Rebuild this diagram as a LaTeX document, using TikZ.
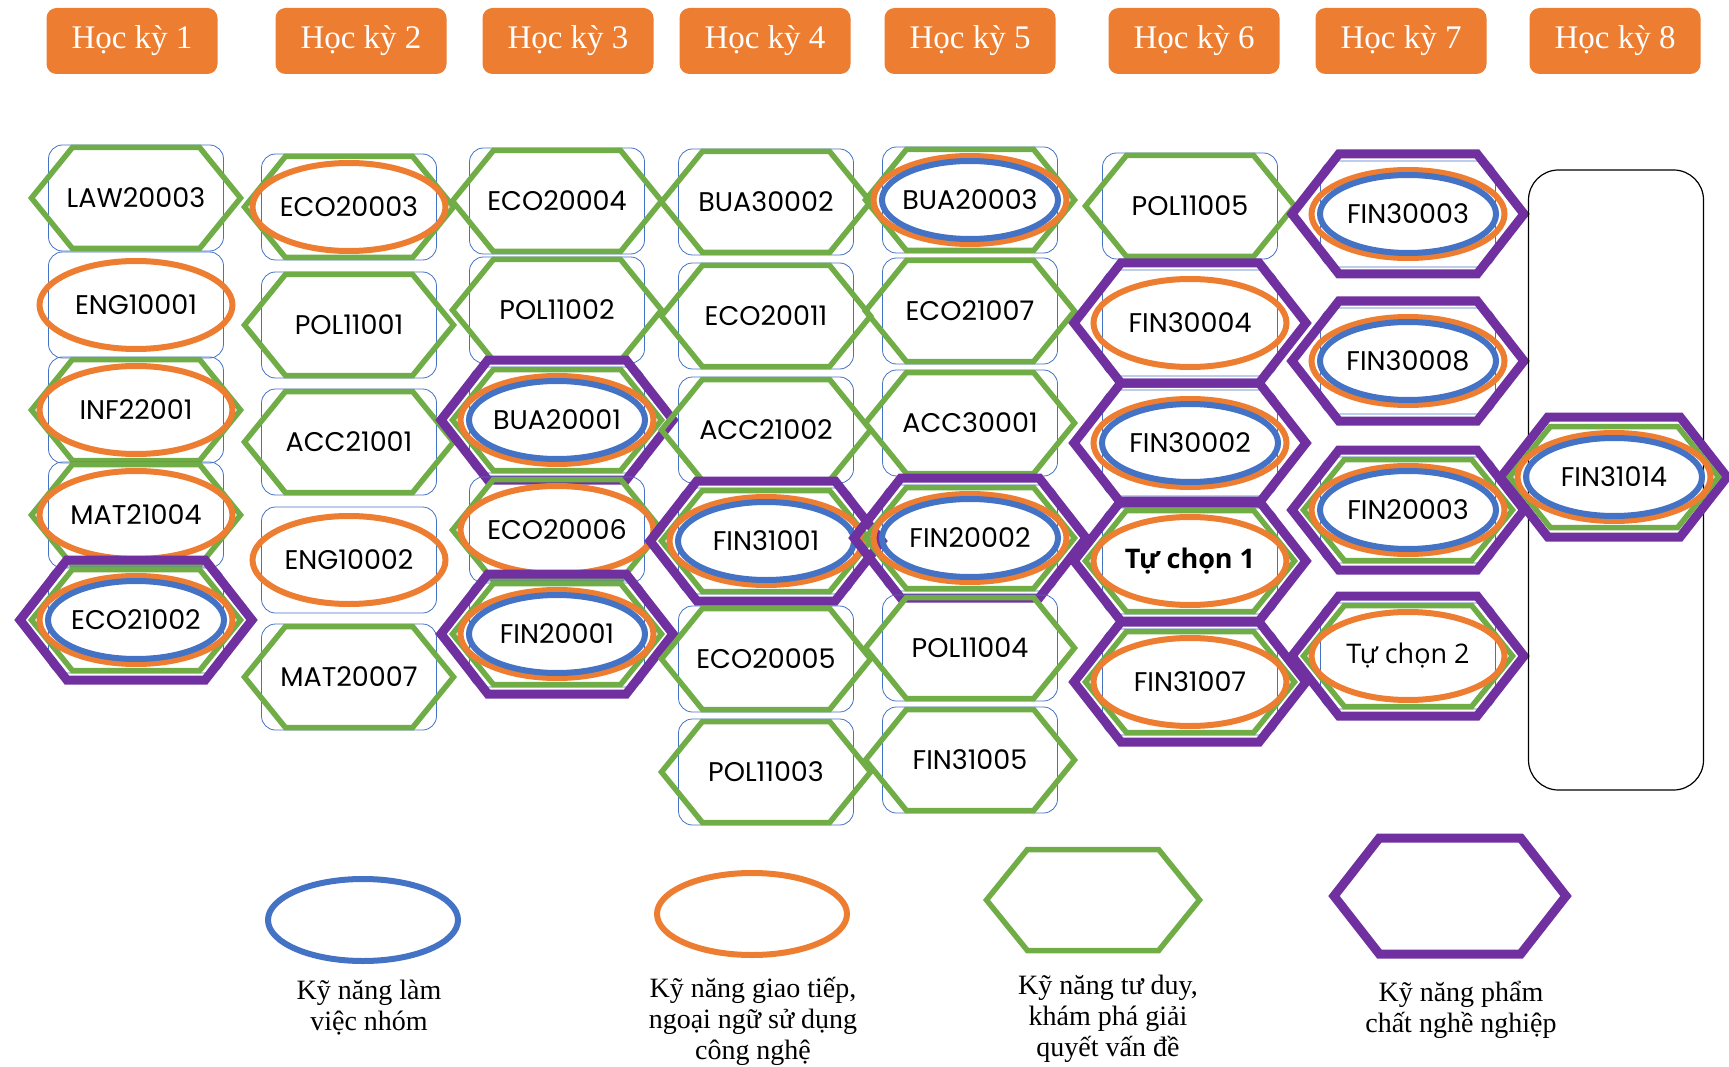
\documentclass[tikz,border=0pt]{standalone}
\usepackage{fontspec}
\setmainfont{Liberation Serif}
\newfontfamily\codefont{Poppins}
\newfontfamily\vnfont{Open Sans}
\usetikzlibrary{shapes.geometric, shapes.symbols}
\definecolor{HKcam}{RGB}{237,125,49}
\definecolor{HKxanh}{RGB}{68,114,196}
\definecolor{HKla}{RGB}{112,173,71}
\definecolor{HKtim}{RGB}{112,48,160}

\begin{document}
\begin{tikzpicture}[x=1pt, y=-1pt,
    hk/.style={
        rectangle, rounded corners=10pt, fill=HKcam,
        minimum width=171pt, minimum height=66pt,
        text=white, font=\fontsize{33}{38}\selectfont},
    course/.style={
        rectangle, rounded corners=14pt,
        draw=HKxanh, line width=0.8pt,
        minimum width=175pt, minimum height=106pt, inner sep=0pt,
        font=\codefont\fontsize{27}{32}\selectfont},
    ghex/.style={
        signal, signal to=east and west, signal pointer angle=102,
        draw=HKla, line width=5.5pt, inner sep=0pt,
        minimum width=209pt, minimum height=101pt},
    phex/.style={
        signal, signal to=east and west, signal pointer angle=104,
        draw=HKtim, line width=9pt, inner sep=0pt,
        minimum width=232pt, minimum height=120pt},
    oell/.style={ellipse, draw=HKcam, line width=6pt,
        minimum width=193pt, minimum height=88pt},
    bell/.style={ellipse, draw=HKxanh, line width=6pt,
        minimum width=176pt, minimum height=78pt},
    legtext/.style={align=center, font=\fontsize{28}{31}\selectfont}]
  \useasboundingbox (0,0) rectangle (1729,1067);
  % Hoc ky
  \node[hk] (hk1) at (132,41)  {Học kỳ 1};
  \node[hk] (hk2) at (361,41)  {Học kỳ 2};
  \node[hk] (hk3) at (568,41)  {Học kỳ 3};
  \node[hk] (hk4) at (765,41)  {Học kỳ 4};
  \node[hk] (hk5) at (970,41)  {Học kỳ 5};
  \node[hk] (hk6) at (1194,41) {Học kỳ 6};
  \node[hk] (hk7) at (1401,41) {Học kỳ 7};
  \node[hk] (hk8) at (1615,41) {Học kỳ 8};
  % Hoc ky 1
  \node[course] (law20003) at (136,198) {LAW20003};
  \node[ghex] (law20003g) at (law20003) {};
  \node[course] (eng10001) at (136,305) {ENG10001};
  \node[oell] (eng10001o) at (eng10001) {};
  \node[course] (inf22001) at (136,410) {INF22001};
  \node[ghex] (inf22001g) at (inf22001) {};
  \node[oell] (inf22001o) at (inf22001) {};
  \node[course] (mat21004) at (136,515) {MAT21004};
  \node[ghex] (mat21004g) at (mat21004) {};
  \node[oell] (mat21004o) at (mat21004) {};
  \node[course] (eco21002) at (136,620) {ECO21002};
  \node[phex] (eco21002p) at (eco21002) {};
  \node[ghex] (eco21002g) at (eco21002) {};
  \node[oell] (eco21002o) at (eco21002) {};
  \node[bell] (eco21002b) at (eco21002) {};
  % Hoc ky 2
  \node[course] (eco20003) at (349,207) {ECO20003};
  \node[ghex] (eco20003g) at (eco20003) {};
  \node[oell] (eco20003o) at (eco20003) {};
  \node[course] (pol11001) at (349,325) {POL11001};
  \node[ghex] (pol11001g) at (pol11001) {};
  \node[course] (acc21001) at (349,442) {ACC21001};
  \node[ghex] (acc21001g) at (acc21001) {};
  \node[course] (eng10002) at (349,560) {ENG10002};
  \node[oell] (eng10002o) at (eng10002) {};
  \node[course] (mat20007) at (349,677) {MAT20007};
  \node[ghex] (mat20007g) at (mat20007) {};
  % Hoc ky 3
  \node[course] (eco20004) at (557,201) {ECO20004};
  \node[ghex] (eco20004g) at (eco20004) {};
  \node[course] (pol11002) at (557,310) {POL11002};
  \node[ghex] (pol11002g) at (pol11002) {};
  \node[course] (bua20001) at (557,420) {BUA20001};
  \node[phex] (bua20001p) at (bua20001) {};
  \node[ghex] (bua20001g) at (bua20001) {};
  \node[oell] (bua20001o) at (bua20001) {};
  \node[bell] (bua20001b) at (bua20001) {};
  \node[course] (eco20006) at (557,530) {ECO20006};
  \node[ghex] (eco20006g) at (eco20006) {};
  \node[oell] (eco20006o) at (eco20006) {};
  \node[course] (fin20001) at (557,634) {FIN20001};
  \node[phex] (fin20001p) at (fin20001) {};
  \node[ghex] (fin20001g) at (fin20001) {};
  \node[oell] (fin20001o) at (fin20001) {};
  \node[bell] (fin20001b) at (fin20001) {};
  % Hoc ky 4
  \node[course] (bua30002) at (766,202) {BUA30002};
  \node[ghex] (bua30002g) at (bua30002) {};
  \node[course] (eco20011) at (766,316) {ECO20011};
  \node[ghex] (eco20011g) at (eco20011) {};
  \node[course] (acc21002) at (766,430) {ACC21002};
  \node[ghex] (acc21002g) at (acc21002) {};
  \node[course] (fin31001) at (766,541) {FIN31001};
  \node[phex] (fin31001p) at (fin31001) {};
  \node[ghex] (fin31001g) at (fin31001) {};
  \node[oell] (fin31001o) at (fin31001) {};
  \node[bell] (fin31001b) at (fin31001) {};
  \node[course] (eco20005) at (766,659) {ECO20005};
  \node[ghex] (eco20005g) at (eco20005) {};
  \node[course] (pol11003) at (766,772) {POL11003};
  \node[ghex] (pol11003g) at (pol11003) {};
  % Hoc ky 5
  \node[course] (bua20003) at (970,200) {BUA20003};
  \node[ghex] (bua20003g) at (bua20003) {};
  \node[oell] (bua20003o) at (bua20003) {};
  \node[bell] (bua20003b) at (bua20003) {};
  \node[course] (eco21007) at (970,311) {ECO21007};
  \node[ghex] (eco21007g) at (eco21007) {};
  \node[course] (acc30001) at (970,423) {ACC30001};
  \node[ghex] (acc30001g) at (acc30001) {};
  \node[course] (fin20002) at (970,538) {FIN20002};
  \node[phex] (fin20002p) at (fin20002) {};
  \node[ghex] (fin20002g) at (fin20002) {};
  \node[oell] (fin20002o) at (fin20002) {};
  \node[bell] (fin20002b) at (fin20002) {};
  \node[course] (pol11004) at (970,648) {POL11004};
  \node[ghex] (pol11004g) at (pol11004) {};
  \node[course] (fin31005) at (970,760) {FIN31005};
  \node[ghex] (fin31005g) at (fin31005) {};
  % Hoc ky 6
  \node[course] (pol11005) at (1190,206) {POL11005};
  \node[ghex] (pol11005g) at (pol11005) {};
  \node[course] (fin30004) at (1190,323) {FIN30004};
  \node[phex] (fin30004p) at (fin30004) {};
  \node[oell] (fin30004o) at (fin30004) {};
  \node[course] (fin30002) at (1190,443) {FIN30002};
  \node[phex] (fin30002p) at (fin30002) {};
  \node[oell] (fin30002o) at (fin30002) {};
  \node[bell] (fin30002b) at (fin30002) {};
  \node[course] (tuchon1) at (1190,561) {\vnfont\bfseries Tự chọn 1};
  \node[phex] (tuchon1p) at (tuchon1) {};
  \node[ghex] (tuchon1g) at (tuchon1) {};
  \node[oell] (tuchon1o) at (tuchon1) {};
  \node[course] (fin31007) at (1190,682) {FIN31007};
  \node[phex] (fin31007p) at (fin31007) {};
  \node[ghex] (fin31007g) at (fin31007) {};
  \node[oell] (fin31007o) at (fin31007) {};
  % Hoc ky 7
  \node[course] (fin30003) at (1408,214) {FIN30003};
  \node[phex] (fin30003p) at (fin30003) {};
  \node[oell] (fin30003o) at (fin30003) {};
  \node[bell] (fin30003b) at (fin30003) {};
  \node[course] (fin30008) at (1408,361) {FIN30008};
  \node[phex] (fin30008p) at (fin30008) {};
  \node[oell] (fin30008o) at (fin30008) {};
  \node[bell] (fin30008b) at (fin30008) {};
  \node[course] (fin20003) at (1408,510) {FIN20003};
  \node[phex] (fin20003p) at (fin20003) {};
  \node[ghex] (fin20003g) at (fin20003) {};
  \node[oell] (fin20003o) at (fin20003) {};
  \node[bell] (fin20003b) at (fin20003) {};
  \node[course] (tuchon2) at (1408,656) {\vnfont Tự chọn 2};
  \node[phex] (tuchon2p) at (tuchon2) {};
  \node[ghex] (tuchon2g) at (tuchon2) {};
  \node[oell] (tuchon2o) at (tuchon2) {};
  % Hoc ky 8
  \node[rectangle, rounded corners=30pt, draw=black, line width=1.2pt,
        minimum width=175pt, minimum height=620pt] (hk8khung) at (1616,480) {};
  \node[font=\codefont\fontsize{27}{32}\selectfont] (fin31014) at (1614,477) {FIN31014};
  \node[phex, minimum width=226pt] (fin31014p) at (fin31014) {};
  \node[ghex] (fin31014g) at (fin31014) {};
  \node[oell] (fin31014o) at (fin31014) {};
  \node[bell] (fin31014b) at (fin31014) {};
  % Chu thich
  \node[bell, minimum width=190pt, minimum height=82pt] (lnhom) at (363,920) {};
  \node[oell, minimum width=190pt, minimum height=82pt] (lgiaotiep) at (752,914) {};
  \node[ghex, minimum width=213pt] (ltuduy) at (1093,900) {};
  \node[phex, minimum height=116pt] (lpham) at (1450,896) {};
  \node[legtext] (tnhom)     at (369,1008)  {Kỹ năng làm\\ việc nhóm};
  \node[legtext] (tgiaotiep) at (753,1021)  {Kỹ năng giao tiếp,\\ ngoại ngữ sử dụng\\ công nghệ};
  \node[legtext] (ttuduy)    at (1108,1019) {Kỹ năng tư duy,\\ khám phá giải\\ quyết vấn đề};
  \node[legtext] (tpham)     at (1461,1010) {Kỹ năng phẩm\\ chất nghề nghiệp};
\end{tikzpicture}
\end{document}
